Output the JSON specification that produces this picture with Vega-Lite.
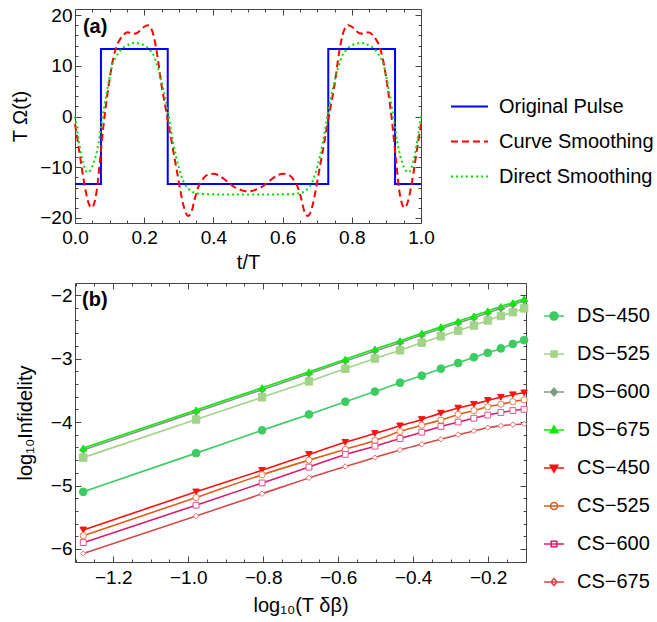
{
  "$schema": "https://vega.github.io/schema/vega-lite/v6.json",
  "background": "white",
  "padding": {"left": 10, "top": 5, "right": 0, "bottom": 0},
  "config": {
    "font": "Liberation Sans",
    "view": {"stroke": "#444", "strokeWidth": 1},
    "axis": {"domain": false, "grid": false, "tickColor": "#444", "tickWidth": 1, "labelColor": "#000", "titleColor": "#000", "labelFontSize": 19, "titleFontSize": 20, "titleFontWeight": "normal", "labelFont": "Liberation Sans", "titleFont": "Liberation Sans", "labelOverlap": false, "labelFlush": false},
    "legend": {"labelFont": "Liberation Sans", "labelColor": "#000", "labelLimit": 400}
  },
  "spacing": 60,
  "bounds": "flush",
  "resolve": {"scale": {"x": "independent", "y": "independent", "color": "independent", "strokeDash": "independent"}, "legend": {"color": "independent", "strokeDash": "independent"}},
  "datasets": {
    "pulse": [
      {"t": 0, "v": -13.3, "s": "Original Pulse"},
      {"t": 0.075, "v": -13.3, "s": "Original Pulse"},
      {"t": 0.075, "v": 13.3, "s": "Original Pulse"},
      {"t": 0.268, "v": 13.3, "s": "Original Pulse"},
      {"t": 0.268, "v": -13.3, "s": "Original Pulse"},
      {"t": 0.732, "v": -13.3, "s": "Original Pulse"},
      {"t": 0.732, "v": 13.3, "s": "Original Pulse"},
      {"t": 0.925, "v": 13.3, "s": "Original Pulse"},
      {"t": 0.925, "v": -13.3, "s": "Original Pulse"},
      {"t": 1, "v": -13.3, "s": "Original Pulse"}
    ],
    "smooth": [
      {"t": 0, "v": -1.5, "s": "Curve Smoothing"},
      {"t": 0.007, "v": -4.5, "s": "Curve Smoothing"},
      {"t": 0.014, "v": -7.6, "s": "Curve Smoothing"},
      {"t": 0.022, "v": -11.2, "s": "Curve Smoothing"},
      {"t": 0.029, "v": -14, "s": "Curve Smoothing"},
      {"t": 0.038, "v": -16.8, "s": "Curve Smoothing"},
      {"t": 0.048, "v": -18, "s": "Curve Smoothing"},
      {"t": 0.056, "v": -17, "s": "Curve Smoothing"},
      {"t": 0.063, "v": -14.5, "s": "Curve Smoothing"},
      {"t": 0.072, "v": -8.8, "s": "Curve Smoothing"},
      {"t": 0.082, "v": -2, "s": "Curve Smoothing"},
      {"t": 0.096, "v": 5.5, "s": "Curve Smoothing"},
      {"t": 0.111, "v": 11.6, "s": "Curve Smoothing"},
      {"t": 0.12, "v": 13.8, "s": "Curve Smoothing"},
      {"t": 0.13, "v": 15.2, "s": "Curve Smoothing"},
      {"t": 0.14, "v": 16.1, "s": "Curve Smoothing"},
      {"t": 0.153, "v": 16.6, "s": "Curve Smoothing"},
      {"t": 0.165, "v": 16.3, "s": "Curve Smoothing"},
      {"t": 0.178, "v": 16.4, "s": "Curve Smoothing"},
      {"t": 0.19, "v": 17.1, "s": "Curve Smoothing"},
      {"t": 0.2, "v": 17.7, "s": "Curve Smoothing"},
      {"t": 0.21, "v": 18.0, "s": "Curve Smoothing"},
      {"t": 0.218, "v": 17.6, "s": "Curve Smoothing"},
      {"t": 0.227, "v": 16, "s": "Curve Smoothing"},
      {"t": 0.236, "v": 12.9, "s": "Curve Smoothing"},
      {"t": 0.25, "v": 6.2, "s": "Curve Smoothing"},
      {"t": 0.26, "v": 2.4, "s": "Curve Smoothing"},
      {"t": 0.27, "v": -1.4, "s": "Curve Smoothing"},
      {"t": 0.282, "v": -6, "s": "Curve Smoothing"},
      {"t": 0.294, "v": -10.6, "s": "Curve Smoothing"},
      {"t": 0.305, "v": -14.8, "s": "Curve Smoothing"},
      {"t": 0.313, "v": -17.4, "s": "Curve Smoothing"},
      {"t": 0.32, "v": -19, "s": "Curve Smoothing"},
      {"t": 0.327, "v": -19.6, "s": "Curve Smoothing"},
      {"t": 0.335, "v": -19.1, "s": "Curve Smoothing"},
      {"t": 0.347, "v": -16, "s": "Curve Smoothing"},
      {"t": 0.357, "v": -13.8, "s": "Curve Smoothing"},
      {"t": 0.366, "v": -12.7, "s": "Curve Smoothing"},
      {"t": 0.38, "v": -11.6, "s": "Curve Smoothing"},
      {"t": 0.4, "v": -11.3, "s": "Curve Smoothing"},
      {"t": 0.42, "v": -11.8, "s": "Curve Smoothing"},
      {"t": 0.438, "v": -12.7, "s": "Curve Smoothing"},
      {"t": 0.458, "v": -13.8, "s": "Curve Smoothing"},
      {"t": 0.477, "v": -14.4, "s": "Curve Smoothing"},
      {"t": 0.49, "v": -14.7, "s": "Curve Smoothing"},
      {"t": 0.5, "v": -14.8, "s": "Curve Smoothing"},
      {"t": 0.51, "v": -14.7, "s": "Curve Smoothing"},
      {"t": 0.523, "v": -14.4, "s": "Curve Smoothing"},
      {"t": 0.542, "v": -13.8, "s": "Curve Smoothing"},
      {"t": 0.562, "v": -12.7, "s": "Curve Smoothing"},
      {"t": 0.58, "v": -11.8, "s": "Curve Smoothing"},
      {"t": 0.6, "v": -11.3, "s": "Curve Smoothing"},
      {"t": 0.62, "v": -11.6, "s": "Curve Smoothing"},
      {"t": 0.634, "v": -12.7, "s": "Curve Smoothing"},
      {"t": 0.643, "v": -13.8, "s": "Curve Smoothing"},
      {"t": 0.653, "v": -16, "s": "Curve Smoothing"},
      {"t": 0.665, "v": -19.1, "s": "Curve Smoothing"},
      {"t": 0.673, "v": -19.6, "s": "Curve Smoothing"},
      {"t": 0.68, "v": -19, "s": "Curve Smoothing"},
      {"t": 0.687, "v": -17.4, "s": "Curve Smoothing"},
      {"t": 0.695, "v": -14.8, "s": "Curve Smoothing"},
      {"t": 0.706, "v": -10.6, "s": "Curve Smoothing"},
      {"t": 0.718, "v": -6, "s": "Curve Smoothing"},
      {"t": 0.73, "v": -1.4, "s": "Curve Smoothing"},
      {"t": 0.74, "v": 2.4, "s": "Curve Smoothing"},
      {"t": 0.75, "v": 6.2, "s": "Curve Smoothing"},
      {"t": 0.764, "v": 12.9, "s": "Curve Smoothing"},
      {"t": 0.773, "v": 16, "s": "Curve Smoothing"},
      {"t": 0.782, "v": 17.6, "s": "Curve Smoothing"},
      {"t": 0.79, "v": 18.0, "s": "Curve Smoothing"},
      {"t": 0.8, "v": 17.7, "s": "Curve Smoothing"},
      {"t": 0.81, "v": 17.1, "s": "Curve Smoothing"},
      {"t": 0.822, "v": 16.4, "s": "Curve Smoothing"},
      {"t": 0.835, "v": 16.3, "s": "Curve Smoothing"},
      {"t": 0.847, "v": 16.6, "s": "Curve Smoothing"},
      {"t": 0.86, "v": 16.1, "s": "Curve Smoothing"},
      {"t": 0.87, "v": 15.2, "s": "Curve Smoothing"},
      {"t": 0.88, "v": 13.8, "s": "Curve Smoothing"},
      {"t": 0.889, "v": 11.6, "s": "Curve Smoothing"},
      {"t": 0.904, "v": 5.5, "s": "Curve Smoothing"},
      {"t": 0.918, "v": -2, "s": "Curve Smoothing"},
      {"t": 0.928, "v": -8.8, "s": "Curve Smoothing"},
      {"t": 0.937, "v": -14.5, "s": "Curve Smoothing"},
      {"t": 0.944, "v": -17, "s": "Curve Smoothing"},
      {"t": 0.952, "v": -18, "s": "Curve Smoothing"},
      {"t": 0.962, "v": -16.8, "s": "Curve Smoothing"},
      {"t": 0.971, "v": -14, "s": "Curve Smoothing"},
      {"t": 0.978, "v": -11.2, "s": "Curve Smoothing"},
      {"t": 0.986, "v": -7.6, "s": "Curve Smoothing"},
      {"t": 0.993, "v": -4.5, "s": "Curve Smoothing"},
      {"t": 1, "v": -1.5, "s": "Curve Smoothing"},
      {"t": 0, "v": 0, "s": "Direct Smoothing"},
      {"t": 0.012, "v": -5.3, "s": "Direct Smoothing"},
      {"t": 0.024, "v": -9.3, "s": "Direct Smoothing"},
      {"t": 0.035, "v": -11, "s": "Direct Smoothing"},
      {"t": 0.045, "v": -10.6, "s": "Direct Smoothing"},
      {"t": 0.053, "v": -9.3, "s": "Direct Smoothing"},
      {"t": 0.061, "v": -7.5, "s": "Direct Smoothing"},
      {"t": 0.068, "v": -5.3, "s": "Direct Smoothing"},
      {"t": 0.077, "v": -1.2, "s": "Direct Smoothing"},
      {"t": 0.092, "v": 4.8, "s": "Direct Smoothing"},
      {"t": 0.106, "v": 9.6, "s": "Direct Smoothing"},
      {"t": 0.125, "v": 12.5, "s": "Direct Smoothing"},
      {"t": 0.15, "v": 14, "s": "Direct Smoothing"},
      {"t": 0.173, "v": 14.5, "s": "Direct Smoothing"},
      {"t": 0.195, "v": 14.2, "s": "Direct Smoothing"},
      {"t": 0.215, "v": 13.2, "s": "Direct Smoothing"},
      {"t": 0.226, "v": 12.2, "s": "Direct Smoothing"},
      {"t": 0.24, "v": 9.5, "s": "Direct Smoothing"},
      {"t": 0.255, "v": 5.5, "s": "Direct Smoothing"},
      {"t": 0.27, "v": 0.3, "s": "Direct Smoothing"},
      {"t": 0.284, "v": -5.2, "s": "Direct Smoothing"},
      {"t": 0.3, "v": -10, "s": "Direct Smoothing"},
      {"t": 0.313, "v": -12.7, "s": "Direct Smoothing"},
      {"t": 0.33, "v": -14.4, "s": "Direct Smoothing"},
      {"t": 0.35, "v": -15.1, "s": "Direct Smoothing"},
      {"t": 0.375, "v": -15.3, "s": "Direct Smoothing"},
      {"t": 0.4, "v": -15.35, "s": "Direct Smoothing"},
      {"t": 0.45, "v": -15.4, "s": "Direct Smoothing"},
      {"t": 0.5, "v": -15.4, "s": "Direct Smoothing"},
      {"t": 0.55, "v": -15.4, "s": "Direct Smoothing"},
      {"t": 0.6, "v": -15.35, "s": "Direct Smoothing"},
      {"t": 0.625, "v": -15.3, "s": "Direct Smoothing"},
      {"t": 0.65, "v": -15.1, "s": "Direct Smoothing"},
      {"t": 0.67, "v": -14.4, "s": "Direct Smoothing"},
      {"t": 0.687, "v": -12.7, "s": "Direct Smoothing"},
      {"t": 0.7, "v": -10, "s": "Direct Smoothing"},
      {"t": 0.716, "v": -5.2, "s": "Direct Smoothing"},
      {"t": 0.73, "v": 0.3, "s": "Direct Smoothing"},
      {"t": 0.745, "v": 5.5, "s": "Direct Smoothing"},
      {"t": 0.76, "v": 9.5, "s": "Direct Smoothing"},
      {"t": 0.774, "v": 12.2, "s": "Direct Smoothing"},
      {"t": 0.785, "v": 13.2, "s": "Direct Smoothing"},
      {"t": 0.805, "v": 14.2, "s": "Direct Smoothing"},
      {"t": 0.827, "v": 14.5, "s": "Direct Smoothing"},
      {"t": 0.85, "v": 14, "s": "Direct Smoothing"},
      {"t": 0.875, "v": 12.5, "s": "Direct Smoothing"},
      {"t": 0.894, "v": 9.6, "s": "Direct Smoothing"},
      {"t": 0.908, "v": 4.8, "s": "Direct Smoothing"},
      {"t": 0.923, "v": -1.2, "s": "Direct Smoothing"},
      {"t": 0.932, "v": -5.3, "s": "Direct Smoothing"},
      {"t": 0.939, "v": -7.5, "s": "Direct Smoothing"},
      {"t": 0.947, "v": -9.3, "s": "Direct Smoothing"},
      {"t": 0.955, "v": -10.6, "s": "Direct Smoothing"},
      {"t": 0.965, "v": -11, "s": "Direct Smoothing"},
      {"t": 0.976, "v": -9.3, "s": "Direct Smoothing"},
      {"t": 0.988, "v": -5.3, "s": "Direct Smoothing"},
      {"t": 1, "v": 0, "s": "Direct Smoothing"}
    ],
    "infid": [
      {"x": -1.280, "v": -5.10, "s": "DS−450"}, {"x": -0.979, "v": -4.49, "s": "DS−450"}, {"x": -0.803, "v": -4.13, "s": "DS−450"}, {"x": -0.678, "v": -3.88, "s": "DS−450"}, {"x": -0.581, "v": -3.68, "s": "DS−450"}, {"x": -0.502, "v": -3.52, "s": "DS−450"}, {"x": -0.435, "v": -3.38, "s": "DS−450"}, {"x": -0.377, "v": -3.27, "s": "DS−450"}, {"x": -0.326, "v": -3.16, "s": "DS−450"}, {"x": -0.280, "v": -3.07, "s": "DS−450"}, {"x": -0.238, "v": -2.98, "s": "DS−450"}, {"x": -0.201, "v": -2.91, "s": "DS−450"}, {"x": -0.166, "v": -2.84, "s": "DS−450"}, {"x": -0.134, "v": -2.77, "s": "DS−450"}, {"x": -0.104, "v": -2.71, "s": "DS−450"},
      {"x": -1.280, "v": -4.56, "s": "DS−525"}, {"x": -0.979, "v": -3.96, "s": "DS−525"}, {"x": -0.803, "v": -3.61, "s": "DS−525"}, {"x": -0.678, "v": -3.36, "s": "DS−525"}, {"x": -0.581, "v": -3.16, "s": "DS−525"}, {"x": -0.502, "v": -3.00, "s": "DS−525"}, {"x": -0.435, "v": -2.87, "s": "DS−525"}, {"x": -0.377, "v": -2.75, "s": "DS−525"}, {"x": -0.326, "v": -2.65, "s": "DS−525"}, {"x": -0.280, "v": -2.56, "s": "DS−525"}, {"x": -0.238, "v": -2.48, "s": "DS−525"}, {"x": -0.201, "v": -2.40, "s": "DS−525"}, {"x": -0.166, "v": -2.33, "s": "DS−525"}, {"x": -0.134, "v": -2.27, "s": "DS−525"}, {"x": -0.104, "v": -2.21, "s": "DS−525"},
      {"x": -1.280, "v": -4.44, "s": "DS−600"}, {"x": -0.979, "v": -3.84, "s": "DS−600"}, {"x": -0.803, "v": -3.49, "s": "DS−600"}, {"x": -0.678, "v": -3.24, "s": "DS−600"}, {"x": -0.581, "v": -3.04, "s": "DS−600"}, {"x": -0.502, "v": -2.88, "s": "DS−600"}, {"x": -0.435, "v": -2.75, "s": "DS−600"}, {"x": -0.377, "v": -2.63, "s": "DS−600"}, {"x": -0.326, "v": -2.53, "s": "DS−600"}, {"x": -0.280, "v": -2.44, "s": "DS−600"}, {"x": -0.238, "v": -2.36, "s": "DS−600"}, {"x": -0.201, "v": -2.28, "s": "DS−600"}, {"x": -0.166, "v": -2.21, "s": "DS−600"}, {"x": -0.134, "v": -2.15, "s": "DS−600"}, {"x": -0.104, "v": -2.09, "s": "DS−600"},
      {"x": -1.280, "v": -4.41, "s": "DS−675"}, {"x": -0.979, "v": -3.81, "s": "DS−675"}, {"x": -0.803, "v": -3.46, "s": "DS−675"}, {"x": -0.678, "v": -3.21, "s": "DS−675"}, {"x": -0.581, "v": -3.01, "s": "DS−675"}, {"x": -0.502, "v": -2.85, "s": "DS−675"}, {"x": -0.435, "v": -2.72, "s": "DS−675"}, {"x": -0.377, "v": -2.60, "s": "DS−675"}, {"x": -0.326, "v": -2.50, "s": "DS−675"}, {"x": -0.280, "v": -2.41, "s": "DS−675"}, {"x": -0.238, "v": -2.33, "s": "DS−675"}, {"x": -0.201, "v": -2.25, "s": "DS−675"}, {"x": -0.166, "v": -2.18, "s": "DS−675"}, {"x": -0.134, "v": -2.12, "s": "DS−675"}, {"x": -0.104, "v": -2.06, "s": "DS−675"},
      {"x": -1.280, "v": -5.70, "s": "CS−450"}, {"x": -0.979, "v": -5.10, "s": "CS−450"}, {"x": -0.803, "v": -4.76, "s": "CS−450"}, {"x": -0.678, "v": -4.51, "s": "CS−450"}, {"x": -0.581, "v": -4.32, "s": "CS−450"}, {"x": -0.502, "v": -4.18, "s": "CS−450"}, {"x": -0.435, "v": -4.06, "s": "CS−450"}, {"x": -0.377, "v": -3.96, "s": "CS−450"}, {"x": -0.326, "v": -3.86, "s": "CS−450"}, {"x": -0.280, "v": -3.78, "s": "CS−450"}, {"x": -0.238, "v": -3.72, "s": "CS−450"}, {"x": -0.201, "v": -3.66, "s": "CS−450"}, {"x": -0.166, "v": -3.61, "s": "CS−450"}, {"x": -0.134, "v": -3.57, "s": "CS−450"}, {"x": -0.104, "v": -3.54, "s": "CS−450"},
      {"x": -1.280, "v": -5.79, "s": "CS−525"}, {"x": -0.979, "v": -5.19, "s": "CS−525"}, {"x": -0.803, "v": -4.83, "s": "CS−525"}, {"x": -0.678, "v": -4.60, "s": "CS−525"}, {"x": -0.581, "v": -4.43, "s": "CS−525"}, {"x": -0.502, "v": -4.29, "s": "CS−525"}, {"x": -0.435, "v": -4.15, "s": "CS−525"}, {"x": -0.377, "v": -4.05, "s": "CS−525"}, {"x": -0.326, "v": -3.97, "s": "CS−525"}, {"x": -0.280, "v": -3.88, "s": "CS−525"}, {"x": -0.238, "v": -3.82, "s": "CS−525"}, {"x": -0.201, "v": -3.76, "s": "CS−525"}, {"x": -0.166, "v": -3.72, "s": "CS−525"}, {"x": -0.134, "v": -3.68, "s": "CS−525"}, {"x": -0.104, "v": -3.65, "s": "CS−525"},
      {"x": -1.280, "v": -5.90, "s": "CS−600"}, {"x": -0.979, "v": -5.31, "s": "CS−600"}, {"x": -0.803, "v": -4.96, "s": "CS−600"}, {"x": -0.678, "v": -4.71, "s": "CS−600"}, {"x": -0.581, "v": -4.51, "s": "CS−600"}, {"x": -0.502, "v": -4.38, "s": "CS−600"}, {"x": -0.435, "v": -4.26, "s": "CS−600"}, {"x": -0.377, "v": -4.16, "s": "CS−600"}, {"x": -0.326, "v": -4.07, "s": "CS−600"}, {"x": -0.280, "v": -4.00, "s": "CS−600"}, {"x": -0.238, "v": -3.94, "s": "CS−600"}, {"x": -0.201, "v": -3.89, "s": "CS−600"}, {"x": -0.166, "v": -3.85, "s": "CS−600"}, {"x": -0.134, "v": -3.82, "s": "CS−600"}, {"x": -0.104, "v": -3.80, "s": "CS−600"},
      {"x": -1.280, "v": -6.07, "s": "CS−675"}, {"x": -0.979, "v": -5.48, "s": "CS−675"}, {"x": -0.803, "v": -5.13, "s": "CS−675"}, {"x": -0.678, "v": -4.88, "s": "CS−675"}, {"x": -0.581, "v": -4.70, "s": "CS−675"}, {"x": -0.502, "v": -4.56, "s": "CS−675"}, {"x": -0.435, "v": -4.44, "s": "CS−675"}, {"x": -0.377, "v": -4.35, "s": "CS−675"}, {"x": -0.326, "v": -4.27, "s": "CS−675"}, {"x": -0.280, "v": -4.20, "s": "CS−675"}, {"x": -0.238, "v": -4.14, "s": "CS−675"}, {"x": -0.201, "v": -4.09, "s": "CS−675"}, {"x": -0.166, "v": -4.06, "s": "CS−675"}, {"x": -0.134, "v": -4.04, "s": "CS−675"}, {"x": -0.104, "v": -4.03, "s": "CS−675"}
    ]
  },
  "vconcat": [
    {
      "width": 346,
      "height": 214,
      "resolve": {"axis": {"x": "independent", "y": "independent"}},
      "layer": [
        {
          "data": {"name": "pulse"},
          "mark": {"type": "line", "strokeWidth": 2, "interpolate": "linear"},
          "encoding": {
            "x": {"field": "t", "type": "quantitative", "scale": {"domain": [0, 1], "nice": false, "zero": false},
              "axis": {"orient": "bottom", "title": "t/T", "values": [0,0.05,0.1,0.15,0.2,0.25,0.3,0.35,0.4,0.45,0.5,0.55,0.6,0.65,0.7,0.75,0.8,0.85,0.9,0.95,1],
                "labelExpr": "round(datum.value*100)%20==0 ? format(datum.value,'.1f') : ''",
                "tickSize": {"condition": {"test": "round(datum.value*100)%20==0", "value": -6}, "value": -3},
                "labelPadding": 11, "titlePadding": 2}},
            "y": {"field": "v", "type": "quantitative", "scale": {"domain": [-21, 21.2], "nice": false, "zero": false},
              "axis": {"orient": "left", "title": "T Ω(t)", "values": [-20,-18,-16,-14,-12,-10,-8,-6,-4,-2,0,2,4,6,8,10,12,14,16,18,20],
                "labelExpr": "datum.value%10==0 ? format(datum.value,'d') : ''",
                "tickSize": {"condition": {"test": "datum.value%10==0", "value": -6}, "value": -3},
                "labelPadding": 9, "titlePadding": 9}},
            "color": {"field": "s", "type": "nominal", "scale": {"domain": ["Original Pulse", "Curve Smoothing", "Direct Smoothing"], "range": ["#0000ff", "#ff0000", "#00e000"]},
              "legend": {"orient": "none", "legendX": 375, "legendY": 78, "title": null, "labelFontSize": 20, "symbolType": "stroke", "symbolSize": 1369, "symbolStrokeWidth": 2, "rowPadding": 5, "labelOffset": 10, "padding": 0}},
            "strokeDash": {"field": "s", "type": "nominal", "scale": {"domain": ["Original Pulse", "Curve Smoothing", "Direct Smoothing"], "range": [[1, 0], [7, 4], [2, 3]]},
              "legend": {"orient": "none", "legendX": 375, "legendY": 78, "title": null, "labelFontSize": 20, "symbolType": "stroke", "symbolSize": 1369, "symbolStrokeWidth": 2, "rowPadding": 5, "labelOffset": 10, "padding": 0}}
          }
        },
        {
          "data": {"name": "smooth"},
          "mark": {"type": "line", "strokeWidth": 2, "interpolate": "monotone"},
          "encoding": {
            "x": {"field": "t", "type": "quantitative", "scale": {"domain": [0, 1], "nice": false, "zero": false},
              "axis": {"orient": "top", "title": null, "labels": false, "values": [0,0.05,0.1,0.15,0.2,0.25,0.3,0.35,0.4,0.45,0.5,0.55,0.6,0.65,0.7,0.75,0.8,0.85,0.9,0.95,1],
                "tickSize": {"condition": {"test": "round(datum.value*100)%20==0", "value": -6}, "value": -3}}},
            "y": {"field": "v", "type": "quantitative", "scale": {"domain": [-21, 21.2], "nice": false, "zero": false},
              "axis": {"orient": "right", "title": null, "labels": false, "values": [-20,-18,-16,-14,-12,-10,-8,-6,-4,-2,0,2,4,6,8,10,12,14,16,18,20],
                "tickSize": {"condition": {"test": "datum.value%10==0", "value": -6}, "value": -3}}},
            "color": {"field": "s", "type": "nominal", "scale": {"domain": ["Original Pulse", "Curve Smoothing", "Direct Smoothing"], "range": ["#0000ff", "#ff0000", "#00e000"]},
              "legend": {"orient": "none", "legendX": 375, "legendY": 78, "title": null, "labelFontSize": 20, "symbolType": "stroke", "symbolSize": 1369, "symbolStrokeWidth": 2, "rowPadding": 5, "labelOffset": 10, "padding": 0}},
            "strokeDash": {"field": "s", "type": "nominal", "scale": {"domain": ["Original Pulse", "Curve Smoothing", "Direct Smoothing"], "range": [[1, 0], [7, 4], [2, 3]]},
              "legend": {"orient": "none", "legendX": 375, "legendY": 78, "title": null, "labelFontSize": 20, "symbolType": "stroke", "symbolSize": 1369, "symbolStrokeWidth": 2, "rowPadding": 5, "labelOffset": 10, "padding": 0}}
          }
        },
        {
          "data": {"values": [{"label": "(a)"}]},
          "mark": {"type": "text", "fontWeight": "bold", "fontSize": 20, "align": "left", "baseline": "middle", "font": "Liberation Sans"},
          "encoding": {
            "text": {"field": "label"},
            "x": {"datum": 0.023, "type": "quantitative", "axis": null},
            "y": {"datum": 17.6, "type": "quantitative", "axis": null}
          }
        }
      ]
    },
    {
      "width": 451,
      "height": 279,
      "resolve": {"axis": {"x": "independent", "y": "independent"}},
      "layer": [
        {
          "data": {"name": "infid"},
          "mark": {"type": "line", "interpolate": "monotone"},
          "encoding": {
            "x": {"field": "x", "type": "quantitative", "scale": {"domain": [-1.302, -0.099], "nice": false, "zero": false},
              "axis": {"orient": "bottom", "title": "log₁₀(T δβ)", "values": [-1.3,-1.25,-1.2,-1.15,-1.1,-1.05,-1,-0.95,-0.9,-0.85,-0.8,-0.75,-0.7,-0.65,-0.6,-0.55,-0.5,-0.45,-0.4,-0.35,-0.3,-0.25,-0.2,-0.15,-0.1],
                "labelExpr": "round(datum.value*100)%20==0 ? format(datum.value,'.1f') : ''",
                "tickSize": {"condition": {"test": "round(datum.value*100)%20==0", "value": -6}, "value": -3},
                "labelPadding": 12, "titlePadding": 5}},
            "y": {"field": "v", "type": "quantitative", "scale": {"domain": [-6.205, -1.81], "nice": false, "zero": false},
              "axis": {"orient": "left", "title": "log₁₀Infidelity", "values": [-6.2,-6,-5.8,-5.6,-5.4,-5.2,-5,-4.8,-4.6,-4.4,-4.2,-4,-3.8,-3.6,-3.4,-3.2,-3,-2.8,-2.6,-2.4,-2.2,-2],
                "labelExpr": "round(datum.value*10)%10==0 ? format(datum.value,'d') : ''",
                "tickSize": {"condition": {"test": "round(datum.value*10)%10==0", "value": -6}, "value": -3},
                "labelPadding": 9, "titlePadding": 15}},
            "color": {"field": "s", "type": "nominal",
              "scale": {"domain": ["DS−450", "DS−525", "DS−600", "DS−675", "CS−450", "CS−525", "CS−600", "CS−675"], "range": ["#3ccc62", "#a2d488", "#7f9a82", "#10e810", "#ff1010", "#dc5c18", "#dc1a6e", "#d44a4a"]},
              "legend": {"orient": "none", "legendX": 468, "legendY": 22, "title": null, "labelFontSize": 20, "symbolType": "stroke", "symbolSize": 400, "symbolStrokeWidth": 1.6, "rowPadding": 17, "labelOffset": 12, "padding": 0,
                "encode": {"symbols": {"update": {
                  "shape": {"signal": "{'DS−450':'M-1,0L1,0M0.4,0A0.4,0.4,0,1,1,-0.4,0A0.4,0.4,0,1,1,0.4,0Z','DS−525':'M-1,0L1,0M-0.3,-0.3L0.3,-0.3L0.3,0.3L-0.3,0.3Z','DS−600':'M-1,0L1,0M0,-0.38L0.32,0L0,0.38L-0.32,0Z','DS−675':'M-1,0L1,0M0,-0.4L0.38,0.28L-0.38,0.28Z','CS−450':'M-1,0L1,0M0,0.4L0.38,-0.28L-0.38,-0.28Z','CS−525':'M-1,0L1,0M0.35,0A0.35,0.35,0,1,1,-0.35,0A0.35,0.35,0,1,1,0.35,0Z','CS−600':'M-1,0L1,0M-0.28,-0.28L0.28,-0.28L0.28,0.28L-0.28,0.28Z','CS−675':'M-1,0L1,0M0,-0.36L0.3,0L0,0.36L-0.3,0Z'}[datum.value]"},
                  "fill": {"signal": "{'DS−450':'#3ccc62','DS−525':'#a2d488','DS−600':'#7f9a82','DS−675':'#10e810','CS−450':'#ff1010','CS−525':'white','CS−600':'white','CS−675':'white'}[datum.value]"}
                }}}}},
            "strokeWidth": {"field": "s", "type": "nominal", "legend": null,
              "scale": {"domain": ["DS−450", "DS−525", "DS−600", "DS−675", "CS−450", "CS−525", "CS−600", "CS−675"], "range": [1.6, 1.6, 1.6, 3, 2, 1.8, 1.8, 1.5]}}
          }
        },
        {
          "data": {"name": "infid"},
          "mark": {"type": "point", "strokeWidth": 1, "opacity": 1},
          "encoding": {
            "x": {"field": "x", "type": "quantitative", "scale": {"domain": [-1.302, -0.099], "nice": false, "zero": false},
              "axis": {"orient": "top", "title": null, "labels": false, "values": [-1.3,-1.25,-1.2,-1.15,-1.1,-1.05,-1,-0.95,-0.9,-0.85,-0.8,-0.75,-0.7,-0.65,-0.6,-0.55,-0.5,-0.45,-0.4,-0.35,-0.3,-0.25,-0.2,-0.15,-0.1],
                "tickSize": {"condition": {"test": "round(datum.value*100)%20==0", "value": -6}, "value": -3}}},
            "y": {"field": "v", "type": "quantitative", "scale": {"domain": [-6.205, -1.81], "nice": false, "zero": false},
              "axis": {"orient": "right", "title": null, "labels": false, "values": [-6.2,-6,-5.8,-5.6,-5.4,-5.2,-5,-4.8,-4.6,-4.4,-4.2,-4,-3.8,-3.6,-3.4,-3.2,-3,-2.8,-2.6,-2.4,-2.2,-2],
                "tickSize": {"condition": {"test": "round(datum.value*10)%10==0", "value": -6}, "value": -3}}},
            "shape": {"field": "s", "type": "nominal", "legend": null,
              "scale": {"domain": ["DS−450", "DS−525", "DS−600", "DS−675", "CS−450", "CS−525", "CS−600", "CS−675"], "range": ["circle", "square", "diamond", "triangle-up", "triangle-down", "circle", "square", "diamond"]}},
            "stroke": {"field": "s", "type": "nominal", "legend": null,
              "scale": {"domain": ["DS−450", "DS−525", "DS−600", "DS−675", "CS−450", "CS−525", "CS−600", "CS−675"], "range": ["#3ccc62", "#a2d488", "#7f9a82", "#10e810", "#ff1010", "#ee7a40", "#e8508a", "#ee7070"]}},
            "fill": {"field": "s", "type": "nominal", "legend": null,
              "scale": {"domain": ["DS−450", "DS−525", "DS−600", "DS−675", "CS−450", "CS−525", "CS−600", "CS−675"], "range": ["#3ccc62", "#a2d488", "#7f9a82", "#10e810", "#ff1010", "#ffffff", "#ffffff", "#ffffff"]}},
            "size": {"field": "s", "type": "nominal", "legend": null,
              "scale": {"domain": ["DS−450", "DS−525", "DS−600", "DS−675", "CS−450", "CS−525", "CS−600", "CS−675"], "range": [60, 30, 30, 40, 40, 40, 28, 28]}}
          }
        },
        {
          "data": {"values": [{"label": "(b)"}]},
          "mark": {"type": "text", "fontWeight": "bold", "fontSize": 20, "align": "left", "baseline": "middle", "font": "Liberation Sans"},
          "encoding": {
            "text": {"field": "label"},
            "x": {"datum": -1.283, "type": "quantitative", "axis": null},
            "y": {"datum": -2.08, "type": "quantitative", "axis": null}
          }
        }
      ]
    }
  ]
}
